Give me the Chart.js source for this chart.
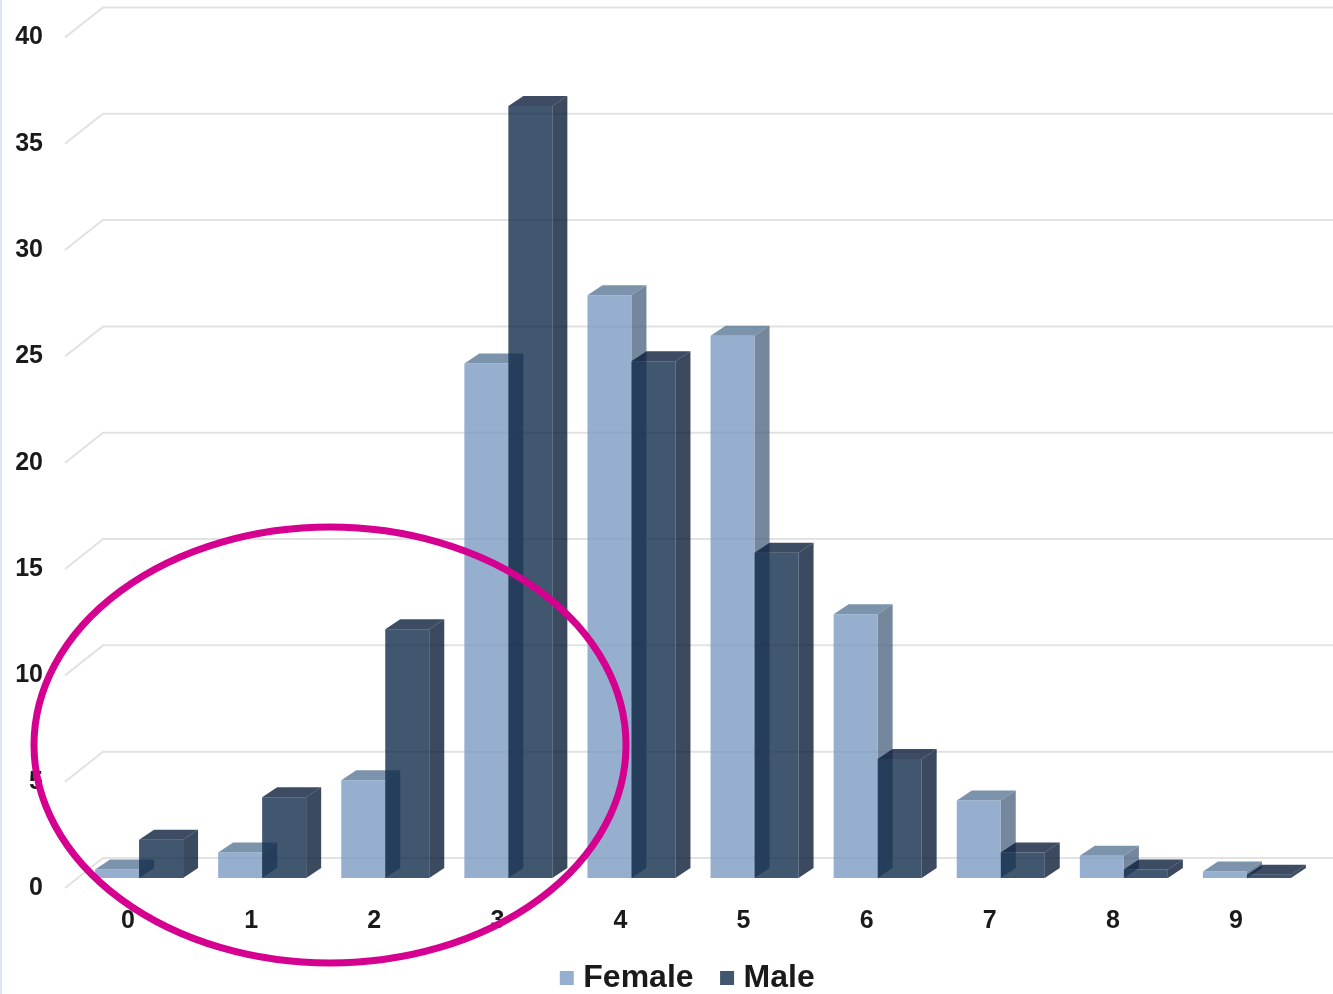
<!DOCTYPE html>
<html>
<head>
<meta charset="utf-8">
<title>Female / Male</title>
<script src="https://cdn.jsdelivr.net/npm/chart.js@4"></script>
<style>
    html, body { margin: 0; padding: 0; background: #fff; overflow: hidden; }
    #wrap { position: relative; width: 1333px; height: 994px; }
    #edge { position: absolute; left: 0; top: 0; width: 2px; height: 994px; background: #dbe5f4; }
</style>
</head>
<body>
<div id="wrap">
    <canvas id="chart" width="1333" height="994"></canvas>
    <div id="edge"></div>
</div>
<script>
const categories = ['0', '1', '2', '3', '4', '5', '6', '7', '8', '9'];
const femaleValues = [0.4, 1.2, 4.6, 24.2, 27.4, 25.5, 12.4, 3.65, 1.05, 0.3];
const maleValues = [1.8, 3.8, 11.7, 36.3, 24.3, 15.3, 5.6, 1.2, 0.4, 0.15];
const yTicks = [0, 5, 10, 15, 20, 25, 30, 35, 40];

const FONT = '"Liberation Sans", Arial, sans-serif';

// depth of the bars and of the floor, in pixels
const BAR_DX = 15;
const BAR_DY = 10;
const WALL_DY = 20;
const WALL_X = 103;
const FRONT_X = 65;
const FRONT_DY = 10;
const LEGEND_SHIFT = 30;

const faceColors = {
    Female: { top: 'rgba(90, 120, 150, 0.8)', side: 'rgba(81, 105, 131, 0.8)' },
    Male: { top: 'rgba(12, 30, 60, 0.8)', side: 'rgba(11, 29, 56, 0.8)' },
};

// grid on the back wall, with the short slanted piece running down the side wall
function drawWallGrid(chart) {
    const { ctx, scales: { y } } = chart;
    ctx.save();
    ctx.strokeStyle = '#e2e2e2';
    ctx.lineWidth = 2;
    y.ticks.forEach((tick) => {
        const py = y.getPixelForValue(tick.value);
        ctx.beginPath();
        ctx.moveTo(FRONT_X, py + FRONT_DY);
        ctx.lineTo(WALL_X, py - WALL_DY);
        ctx.lineTo(1333, py - WALL_DY);
        ctx.stroke();
    });
    ctx.restore();
}

// top and side faces of one dataset
function drawBarDepth(chart, meta) {
    const { ctx } = chart;
    const colors = faceColors[meta.label];
    ctx.save();
    meta.data.forEach((bar) => {
        const { x, y, base, width } = bar.getProps(['x', 'y', 'base', 'width'], true);
        const left = x - width / 2;
        const right = x + width / 2;

        ctx.fillStyle = colors.side;
        ctx.beginPath();
        ctx.moveTo(right, y);
        ctx.lineTo(right + BAR_DX, y - BAR_DY);
        ctx.lineTo(right + BAR_DX, base - BAR_DY);
        ctx.lineTo(right, base);
        ctx.closePath();
        ctx.fill();

        ctx.fillStyle = colors.top;
        ctx.beginPath();
        ctx.moveTo(left, y);
        ctx.lineTo(left + BAR_DX, y - BAR_DY);
        ctx.lineTo(right + BAR_DX, y - BAR_DY);
        ctx.lineTo(right, y);
        ctx.closePath();
        ctx.fill();
    });
    ctx.restore();
}

// Chart.js paints the first dataset last; here Male has to lie over Female
const bars3d = {
    id: 'bars3d',
    afterLayout(chart) {
        // legend sits a little right of the canvas centre
        chart.legend.left += LEGEND_SHIFT;
        chart.legend.right += LEGEND_SHIFT;
    },
    beforeDatasetsDraw(chart) {
        drawWallGrid(chart);
        chart.getSortedVisibleDatasetMetas().forEach((meta) => {
            drawBarDepth(chart, meta);
            meta.controller.draw();
        });
        return false;
    },
};

// magenta ring drawn over the low end of the distribution
const ring = {
    id: 'ring',
    afterDraw(chart) {
        const { ctx } = chart;
        ctx.save();
        ctx.strokeStyle = '#d5008f';
        ctx.lineWidth = 7;
        ctx.beginPath();
        ctx.ellipse(330, 745, 296, 218, 0, 0, Math.PI * 2);
        ctx.stroke();
        ctx.restore();
    },
};

new Chart(document.getElementById('chart'), {
    type: 'bar',
    data: {
        labels: categories,
        datasets: [
            { label: 'Female', data: femaleValues, backgroundColor: 'rgba(125, 155, 195, 0.8)' },
            { label: 'Male', data: maleValues, backgroundColor: 'rgba(17, 44, 75, 0.8)' },
        ],
    },
    plugins: [bars3d, ring],
    options: {
        responsive: false,
        animation: false,
        categoryPercentage: 0.715,
        barPercentage: 1,
        layout: { padding: { top: 27.4, left: 12.5, right: 24.5, bottom: -10 } },
        scales: {
            x: {
                afterFit(axis) { axis.height = 51; },
                grid: { display: false },
                border: { display: false },
                ticks: {
                    color: '#1a1a1a',
                    font: { family: FONT, size: 25, weight: 'bold' },
                    padding: 20,
                    labelOffset: -11,
                    maxRotation: 0,
                    autoSkip: false,
                },
            },
            y: {
                min: 0,
                max: 40,
                afterBuildTicks(axis) {
                    axis.ticks = yTicks.map((value) => ({ value }));
                },
                afterFit(axis) { axis.width = 65; },
                grid: { display: false, tickLength: 34.5 },
                border: { display: false },
                ticks: {
                    color: '#1a1a1a',
                    font: { family: FONT, size: 25, weight: 'bold' },
                    padding: 0,
                    labelOffset: 10,
                },
            },
        },
        plugins: {
            tooltip: { enabled: false },
            legend: {
                position: 'bottom',
                labels: {
                    color: '#1a1a1a',
                    font: { family: FONT, size: 32, weight: 'bold' },
                    usePointStyle: true,
                    pointStyle: 'rect',
                    boxWidth: 1,
                    boxHeight: 14,
                    padding: 33,
                },
            },
        },
    },
});
</script>
</body>
</html>
